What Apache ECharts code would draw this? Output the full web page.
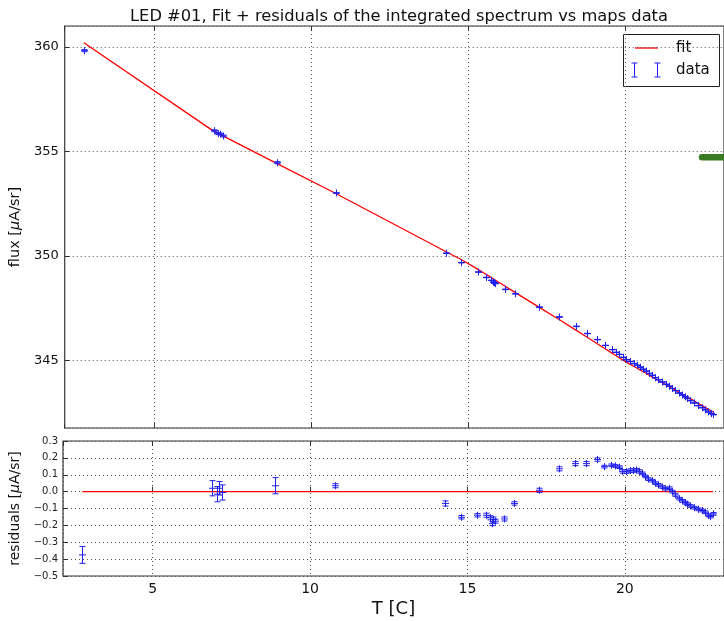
<!DOCTYPE html>
<html>
<head>
<meta charset="utf-8">
<script src="https://cdn.jsdelivr.net/npm/echarts/dist/echarts.min.js"></script>
<style>
  html, body { margin: 0; padding: 0; background: #fff; }
  #chart { width: 724px; height: 621px; }
</style>
</head>
<body>
<div id="chart"></div>
<script>
// LED #01 measurements: temperature [C], integrated flux [uA/sr], fit residuals and their errors
const temps = [2.76, 6.89, 7.03, 7.10, 7.19, 8.90, 10.80, 14.30, 14.78, 15.30, 15.58, 15.72, 15.78, 15.82, 15.86,
  16.17, 16.49, 17.27, 17.91, 18.42, 18.78, 19.10, 19.35, 19.57, 19.70, 19.80, 19.92, 20.04, 20.15, 20.27,
  20.37, 20.46, 20.56, 20.65, 20.75, 20.85, 20.96, 21.06, 21.18, 21.29, 21.40, 21.50, 21.60, 21.71, 21.80,
  21.90, 21.98, 22.08, 22.20, 22.33, 22.44, 22.55, 22.64, 22.72, 22.80];

const flux = [359.82, 355.99, 355.85, 355.83, 355.74, 354.46, 353.01, 350.13, 349.68, 349.23, 348.97, 348.83, 348.74, 348.72, 348.68,
  348.40, 348.19, 347.55, 347.08, 346.63, 346.29, 346.00, 345.72, 345.52, 345.39, 345.29, 345.15, 345.04, 344.95, 344.85,
  344.77, 344.68, 344.58, 344.49, 344.38, 344.29, 344.18, 344.08, 343.97, 343.86, 343.77, 343.66, 343.56, 343.44, 343.35,
  343.26, 343.18, 343.08, 342.97, 342.84, 342.74, 342.64, 342.54, 342.46, 342.41];

const residuals = [-0.375, 0.02, -0.015, 0.02, -0.005, 0.035, 0.035, -0.07, -0.152, -0.14, -0.14, -0.155, -0.19, -0.165, -0.175,
  -0.162, -0.07, 0.008, 0.135, 0.166, 0.166, 0.19, 0.148, 0.156, 0.152, 0.145, 0.12, 0.118, 0.125, 0.125,
  0.128, 0.12, 0.108, 0.09, 0.074, 0.065, 0.05, 0.04, 0.027, 0.018, 0.02, 0.0, -0.02, -0.042, -0.055,
  -0.065, -0.075, -0.085, -0.095, -0.105, -0.112, -0.122, -0.14, -0.148, -0.132];

const errors = [0.05, 0.045, 0.045, 0.04, 0.045, 0.048, 0.012, 0.015, 0.01, 0.01, 0.012, 0.012, 0.012, 0.015, 0.012,
  0.012, 0.01, 0.012, 0.012, 0.012, 0.012, 0.01, 0.008, 0.008, 0.008, 0.008, 0.01, 0.01, 0.01, 0.01,
  0.01, 0.01, 0.008, 0.008, 0.008, 0.008, 0.008, 0.008, 0.008, 0.008, 0.008, 0.008, 0.008, 0.008, 0.008,
  0.008, 0.008, 0.008, 0.008, 0.008, 0.008, 0.008, 0.008, 0.008, 0.008];

// green level marker at the right edge of the flux panel
const levelBandStart = 22.45;
const levelBandValue = 354.72;

// axis ranges
const tRange = [2.15, 23.15];
const fluxRange = [341.77, 361.0];
const residRange = [-0.5, 0.3];

const fitFlux = flux.map((v, i) => v - residuals[i]);

const BLUE = '#1f1fee';
const RED = '#ff0000';
const FONT = 'DejaVu Sans';

function errorBarItem(params, api) {
  const x = api.value(0), y = api.value(1), e = api.value(2);
  const c = api.coord([x, y]);
  const hi = api.coord([x, y + e]);
  const lo = api.coord([x, y - e]);
  const cap = 3, arm = 3.5;
  const style = { stroke: BLUE, lineWidth: 1, fill: null };
  const cx = Math.round(c[0]) + 0.5;
  return {
    type: 'group',
    children: [
      { type: 'line', shape: { x1: cx, y1: hi[1], x2: cx, y2: lo[1] }, style },
      { type: 'line', shape: { x1: cx - cap, y1: hi[1], x2: cx + cap, y2: hi[1] }, style },
      { type: 'line', shape: { x1: cx - cap, y1: lo[1], x2: cx + cap, y2: lo[1] }, style },
      { type: 'line', shape: { x1: cx - arm, y1: c[1], x2: cx + arm, y2: c[1] }, style },
      { type: 'line', shape: { x1: cx, y1: c[1] - arm, x2: cx, y2: c[1] + arm }, style }
    ]
  };
}

const gridLine = { show: true, lineStyle: { color: '#555', type: [1, 3], width: 1 } };
const innerTick = { show: true, inside: true, length: 5, lineStyle: { color: '#333' } };

const chart = echarts.init(document.getElementById('chart'), null, { renderer: 'canvas' });

chart.setOption({
  animation: false,
  backgroundColor: '#fff',
  textStyle: { fontFamily: FONT },
  title: {
    text: 'LED #01, Fit + residuals of the integrated spectrum vs maps data',
    left: 394,
    textAlign: 'center',
    top: 4,
    textStyle: { fontFamily: FONT, fontSize: 16.3, fontWeight: 'normal', color: '#111' }
  },
  grid: [
    { left: 63, right: -2, top: 26, height: 402, show: true, borderColor: '#333', borderWidth: 1.2, backgroundColor: '#fff' },
    { left: 63, right: -2, top: 441, height: 135, show: true, borderColor: '#333', borderWidth: 1.2, backgroundColor: '#fff' }
  ],
  xAxis: [
    { gridIndex: 0, type: 'value', min: tRange[0], max: tRange[1], minInterval: 5, maxInterval: 5,
      axisLine: { show: false }, axisTick: innerTick, axisLabel: { show: false }, splitLine: gridLine },
    { gridIndex: 0, type: 'value', position: 'top', min: tRange[0], max: tRange[1], minInterval: 5, maxInterval: 5,
      axisLine: { show: false }, axisTick: innerTick, axisLabel: { show: false }, splitLine: { show: false } },
    { gridIndex: 1, type: 'value', min: tRange[0], max: tRange[1], minInterval: 5, maxInterval: 5,
      axisLine: { show: false }, axisTick: innerTick, splitLine: gridLine,
      axisLabel: { fontFamily: FONT, fontSize: 14, color: '#111', margin: 6, showMinLabel: false, showMaxLabel: false },
      name: 'T [C]', nameLocation: 'middle', nameGap: 24,
      nameTextStyle: { fontFamily: FONT, fontSize: 18, color: '#111' } },
    { gridIndex: 1, type: 'value', position: 'top', min: tRange[0], max: tRange[1], minInterval: 5, maxInterval: 5,
      axisLine: { show: false }, axisTick: innerTick, axisLabel: { show: false }, splitLine: { show: false } }
  ],
  yAxis: [
    { gridIndex: 0, type: 'value', min: fluxRange[0], max: fluxRange[1], minInterval: 5, maxInterval: 5,
      axisLine: { show: false }, axisTick: innerTick, splitLine: gridLine,
      axisLabel: { fontFamily: FONT, fontSize: 13, color: '#111', margin: 6, showMinLabel: false, showMaxLabel: false },
      name: '{n|flux [}{m|μ}{n|A/sr]}', nameLocation: 'middle', nameGap: 37,
      nameTextStyle: { rich: {
        n: { fontFamily: FONT, fontSize: 14.5, color: '#111' },
        m: { fontFamily: FONT, fontSize: 14.5, fontStyle: 'italic', color: '#111' } } } },
    { gridIndex: 1, type: 'value', min: residRange[0], max: residRange[1], interval: 0.1,
      axisLine: { show: false }, axisTick: innerTick, splitLine: gridLine,
      axisLabel: { fontFamily: FONT, fontSize: 10, color: '#222', margin: 5,
        formatter: v => (v < -1e-9 ? '\u2212' : '') + Math.abs(v).toFixed(1) },
      name: '{n|residuals [}{m|μ}{n|A/sr]}', nameLocation: 'middle', nameGap: 31,
      nameTextStyle: { rich: {
        n: { fontFamily: FONT, fontSize: 14, color: '#111' },
        m: { fontFamily: FONT, fontSize: 14, fontStyle: 'italic', color: '#111' } } } }
  ],
  series: [
    {
      name: 'fit', type: 'line', xAxisIndex: 0, yAxisIndex: 0,
      data: temps.map((t, i) => [t, fitFlux[i]]),
      showSymbol: false, lineStyle: { color: RED, width: 1.3 }, z: 3
    },
    {
      name: 'data', type: 'custom', xAxisIndex: 0, yAxisIndex: 0, clip: true,
      data: temps.map((t, i) => [t, flux[i], errors[i]]),
      renderItem: errorBarItem, z: 4
    },
    {
      name: 'level', type: 'line', xAxisIndex: 0, yAxisIndex: 0,
      data: [[levelBandStart, levelBandValue], [tRange[1] + 1, levelBandValue]],
      showSymbol: false, clip: false,
      lineStyle: { color: '#3a7a22', width: 6.5, cap: 'round' }, z: 5
    },
    {
      name: 'zero', type: 'line', xAxisIndex: 2, yAxisIndex: 1,
      data: [[temps[0], 0], [temps[temps.length - 1], 0]],
      showSymbol: false, lineStyle: { color: RED, width: 1.2 }, z: 3
    },
    {
      name: 'residuals', type: 'custom', xAxisIndex: 2, yAxisIndex: 1, clip: true,
      data: temps.map((t, i) => [t, residuals[i], errors[i]]),
      renderItem: errorBarItem, z: 4
    }
  ],
  graphic: [
    {
      type: 'group', left: 623, top: 34, z: 100,
      children: [
        { type: 'rect', shape: { x: 0.5, y: 0.5, width: 96, height: 52 }, style: { fill: '#fff', stroke: '#222', lineWidth: 1 } },
        { type: 'line', shape: { x1: 12, y1: 14, x2: 35, y2: 14 }, style: { stroke: RED, lineWidth: 1.3 } },
        { type: 'text', x: 53, y: 14, style: { text: 'fit', font: '15px "DejaVu Sans"', fill: '#111', verticalAlign: 'middle' } },
        { type: 'line', shape: { x1: 11.5, y1: 29, x2: 11.5, y2: 43 }, style: { stroke: BLUE, lineWidth: 1 } },
        { type: 'line', shape: { x1: 8.5, y1: 29, x2: 14.5, y2: 29 }, style: { stroke: BLUE, lineWidth: 1 } },
        { type: 'line', shape: { x1: 8.5, y1: 43, x2: 14.5, y2: 43 }, style: { stroke: BLUE, lineWidth: 1 } },
        { type: 'line', shape: { x1: 34.5, y1: 29, x2: 34.5, y2: 43 }, style: { stroke: BLUE, lineWidth: 1 } },
        { type: 'line', shape: { x1: 31.5, y1: 29, x2: 37.5, y2: 29 }, style: { stroke: BLUE, lineWidth: 1 } },
        { type: 'line', shape: { x1: 31.5, y1: 43, x2: 37.5, y2: 43 }, style: { stroke: BLUE, lineWidth: 1 } },
        { type: 'text', x: 53, y: 36, style: { text: 'data', font: '15px "DejaVu Sans"', fill: '#111', verticalAlign: 'middle' } }
      ]
    }
  ]
});
</script>
</body>
</html>
